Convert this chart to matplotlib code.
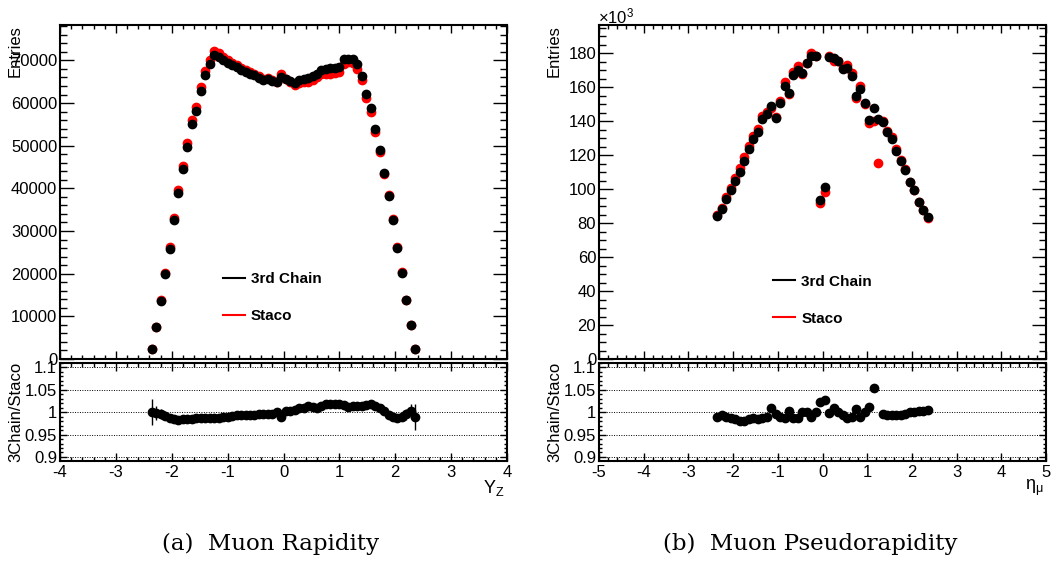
import numpy as np
import matplotlib.pyplot as plt
from matplotlib.lines import Line2D
from matplotlib.ticker import MultipleLocator

plt.rcParams['font.family'] = ['Liberation Sans', 'DejaVu Sans']
plt.rcParams['mathtext.default'] = 'regular'
plt.rcParams['axes.unicode_minus'] = False

# ---- muon rapidity, 60 bins of 0.08 between -2.4 and 2.4
rap_x = np.linspace(-2.36, 2.36, 60)
rap_3chain = [2350, 7590, 13690, 20030, 25900, 32550, 38970, 44440, 49770, 55090,
              58220, 62910, 66590, 69250, 71200, 70810, 70030, 69410, 68860, 68470,
              67680, 67210, 66900, 66510, 65960, 65490, 65730, 65180, 64950, 66120,
              65730, 65100, 64710, 65340, 65570, 65880, 66270, 66740, 67680, 68000,
              68150, 68310, 68470, 70270, 70420, 70270, 69090, 66440, 62050, 58840,
              53990, 48980, 43510, 38110, 32550, 25980, 20190, 13770, 7980, 2350]
rap_staco = [2350, 7605, 13745, 20190, 26215, 33045, 39645, 45160, 50580, 55930,
             59045, 63675, 67470, 70160, 72140, 71670, 70810, 70110, 69490, 68880,
             68160, 67680, 67370, 66910, 66290, 65750, 65990, 65440, 64950, 66790,
             65600, 64900, 64320, 64760, 64920, 65030, 65480, 66150, 66810, 66800,
             66880, 67100, 67260, 69160, 69580, 69300, 68070, 65460, 61070, 57800,
             53300, 48540, 43420, 38380, 32880, 26300, 20390, 13840, 7960, 2375]
rap_ratio = [1.000, 0.998, 0.996, 0.992, 0.988, 0.985, 0.983, 0.984, 0.984, 0.985,
             0.986, 0.988, 0.987, 0.987, 0.987, 0.988, 0.989, 0.990, 0.991, 0.994,
             0.993, 0.993, 0.993, 0.994, 0.995, 0.996, 0.996, 0.996, 1.000, 0.990,
             1.002, 1.003, 1.006, 1.009, 1.010, 1.013, 1.012, 1.009, 1.013, 1.018,
             1.019, 1.018, 1.018, 1.016, 1.012, 1.014, 1.015, 1.015, 1.016, 1.018,
             1.013, 1.009, 1.002, 0.993, 0.990, 0.988, 0.990, 0.995, 1.002, 0.990]
rap_ratio_err = [0.029, 0.016, 0.012, 0.010, 0.009, 0.008, 0.007, 0.007, 0.006, 0.006,
                 0.006, 0.006, 0.005, 0.005, 0.005, 0.005, 0.005, 0.005, 0.005, 0.005,
                 0.005, 0.005, 0.005, 0.005, 0.005, 0.005, 0.005, 0.005, 0.005, 0.005,
                 0.005, 0.005, 0.005, 0.005, 0.005, 0.005, 0.005, 0.005, 0.005, 0.005,
                 0.005, 0.005, 0.005, 0.005, 0.005, 0.005, 0.005, 0.005, 0.006, 0.006,
                 0.006, 0.006, 0.007, 0.007, 0.008, 0.009, 0.010, 0.012, 0.016, 0.029]

# ---- muon pseudorapidity, 48 bins of 0.1 between -2.4 and 2.4 (entries x10^3)
eta_x = np.linspace(-2.35, 2.35, 48)
eta_3chain = [84.0, 88.1, 94.4, 99.5, 104.7, 110.2, 116.7, 123.7, 129.8, 133.4,
              141.5, 144.0, 148.9, 142.2, 150.5, 161.0, 156.4, 167.0, 170.2, 168.2,
              174.5, 178.4, 178.6, 93.8, 101.1, 178.0, 177.1, 175.5, 170.6, 171.2,
              166.6, 155.0, 159.0, 150.5, 140.7, 147.9, 141.1, 139.7, 133.6, 129.6,
              122.6, 116.7, 111.2, 104.1, 99.4, 92.5, 87.9, 83.6]
eta_staco = [84.9, 88.7, 95.4, 100.8, 106.4, 112.3, 119.0, 125.7, 131.5, 135.6,
             143.4, 145.6, 147.6, 142.8, 152.2, 163.1, 155.9, 169.2, 172.3, 168.0,
             174.3, 180.2, 178.6, 91.8, 98.4, 178.4, 175.5, 175.3, 171.6, 173.3,
             168.3, 153.9, 160.6, 150.3, 139.2, 140.2, 115.3, 140.4, 134.4, 130.5,
             123.5, 117.4, 111.8, 104.1, 99.3, 92.2, 87.6, 83.3]
eta_ratio = [0.989, 0.993, 0.990, 0.987, 0.984, 0.981, 0.981, 0.984, 0.987, 0.984,
             0.987, 0.989, 1.009, 0.996, 0.989, 0.987, 1.003, 0.987, 0.988, 1.001,
             1.001, 0.990, 1.000, 1.022, 1.027, 0.998, 1.009, 1.001, 0.994, 0.988,
             0.990, 1.007, 0.990, 1.001, 1.011, 1.055, np.nan, 0.995, 0.994, 0.993,
             0.993, 0.994, 0.995, 1.000, 1.001, 1.003, 1.003, 1.004]

W, H = 1051, 562
fig = plt.figure(figsize=(W / 100, H / 100), dpi=100)


def px_axes(x0, y0, x1, y1):
    return fig.add_axes([x0 / W, 1 - y1 / H, (x1 - x0) / W, (y1 - y0) / H])


def style(ax, ymaj, ymin, xlen, ylen):
    for s in ax.spines.values():
        s.set_linewidth(1.5)
    ax.tick_params(which='both', direction='in', top=True, right=True,
                   labelsize=12, width=1.0)
    ax.tick_params(axis='x', which='major', length=xlen, pad=3)
    ax.tick_params(axis='x', which='minor', length=xlen / 2)
    ax.tick_params(axis='y', which='major', length=ylen, pad=2)
    ax.tick_params(axis='y', which='minor', length=ylen / 2)
    ax.xaxis.set_major_locator(MultipleLocator(1))
    ax.xaxis.set_minor_locator(MultipleLocator(0.2))
    ax.yaxis.set_major_locator(MultipleLocator(ymaj))
    ax.yaxis.set_minor_locator(MultipleLocator(ymin))


ms = 6
panels = [
    (60, rap_x, rap_3chain, rap_staco, rap_ratio, rap_ratio_err, (-4, 4), 78300,
     10000, 2000, 'Y$_{Z}$', 0.364, 0.260),
    (599, eta_x, eta_3chain, eta_staco, eta_ratio, None, (-5, 5), 196.7,
     20, 5, r'$\eta_{\mu}$', 0.389, 0.252),
]

for x0, xs, black, red, ratio, rerr, xlim, ymax, ymaj, ymin, xlab, lx, ly in panels:
    ax = px_axes(x0, 25, x0 + 447, 359)
    ax.plot(xs, red, 'o', color='red', ms=ms, mec='red', zorder=2)
    ax.plot(xs, black, 'o', color='black', ms=ms, zorder=3)
    ax.set_xlim(*xlim)
    ax.set_ylim(0, ymax)
    style(ax, ymaj, ymin, 6, 10)
    ax.tick_params(labelbottom=False)
    ax.set_ylabel('Entries', loc='top', fontsize=12)
    ax.yaxis.set_label_coords(-0.083, 1.0)
    handles = [Line2D([], [], color='black', lw=1.5), Line2D([], [], color='red', lw=1.5)]
    ax.legend(handles, ['3rd Chain', 'Staco'], loc='upper left', bbox_to_anchor=(lx, ly),
              frameon=False, borderpad=0, borderaxespad=0, handlelength=1.45,
              handletextpad=0.4, labelspacing=1.5,
              prop={'weight': 'bold', 'size': 11})

    rx = px_axes(x0, 363, x0 + 447, 461)
    if rerr is not None:
        rx.errorbar(xs, ratio, yerr=rerr, fmt='o', color='black', ms=ms,
                    elinewidth=1, capsize=0, zorder=3)
    else:
        rx.plot(xs, ratio, 'o', color='black', ms=ms, zorder=3)
    rx.set_xlim(*xlim)
    rx.set_ylim(0.891, 1.11)
    style(rx, 0.05, 0.01, 6, 5)
    rx.set_yticks([0.9, 0.95, 1.0, 1.05, 1.1], ['0.9', '0.95', '1', '1.05', '1.1'])
    rx.yaxis.grid(True, which='major', linestyle=(0, (1, 1.5)), color='black', lw=0.7)
    rx.set_axisbelow(True)
    rx.set_ylabel('3Chain/Staco', fontsize=12)
    rx.yaxis.set_label_coords(-0.083, 0.5)
    rx.set_xlabel(xlab, loc='right', fontsize=13)
    rx.xaxis.set_label_coords(0.995, -0.17)

fig.text(598 / W, 1 - 23 / H, r'$\times$10$^{3}$', fontsize=12, ha='left', va='baseline')

cap = dict(family=['DejaVu Serif'], fontsize=16.5, ha='center', va='center')
fig.text(271 / W, 1 - 544 / H, '(a)  Muon Rapidity', **cap)
fig.text(810 / W, 1 - 544 / H, '(b)  Muon Pseudorapidity', **cap)

fig.savefig('out.png', dpi=100)
